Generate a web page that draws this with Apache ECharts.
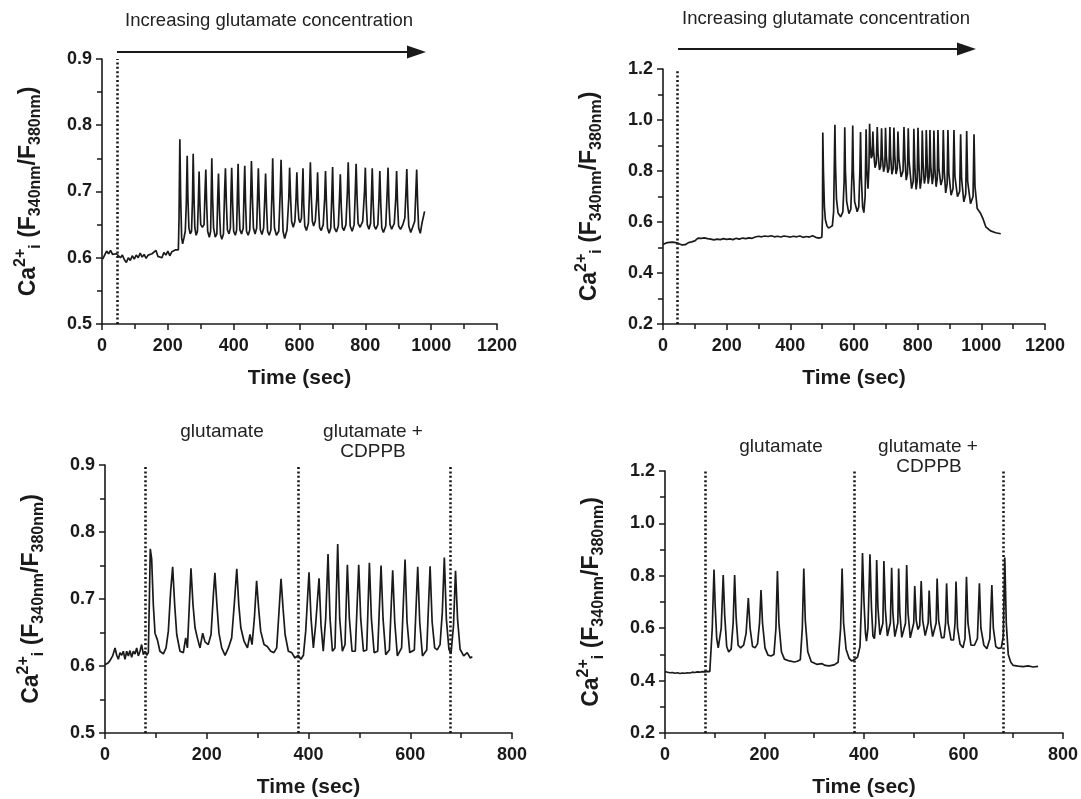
<!DOCTYPE html>
<html><head><meta charset="utf-8">
<script src="https://cdn.jsdelivr.net/npm/echarts@6/dist/echarts.min.js"></script>
<style>html,body{margin:0;padding:0;background:#fff}#c{width:1081px;height:799px}</style>
</head><body><div id="c"></div>
<script>
// ---- DATA ----
const dotsA = [45];
const dotsB = [45];
const dotsC = [80, 380, 678];
const dotsD = [81, 380, 680];

const traceA = [[2,0.598],[8,0.604],[14,0.610],[20,0.606],[26,0.611],[32,0.605],[38,0.608],[44,0.606],[50,0.603],[56,0.600],[62,0.604],[68,0.597],[74,0.593],[80,0.600],[86,0.596],[92,0.603],[98,0.598],[104,0.604],[110,0.600],[116,0.607],[122,0.601],[128,0.605],[134,0.599],[140,0.604],[146,0.601],[152,0.606],[158,0.603],[164,0.611],[170,0.602],[176,0.605],[182,0.600],[188,0.608],[194,0.604],[200,0.610],[206,0.603],[212,0.609],[218,0.606],[224,0.612],[228,0.610],[232,0.612],[234,0.660],[236.5,0.779],[239,0.690],[242,0.630],[245,0.621],[249,0.630],[253,0.640],[256,0.680],[258.8,0.754],[261,0.690],[264,0.645],[268,0.636],[272,0.640],[275,0.690],[277,0.757],[279.5,0.690],[282,0.645],[286,0.634],[290,0.640],[293,0.690],[295,0.730],[297.5,0.680],[300,0.650],[305,0.646],[310,0.650],[313,0.700],[315.4,0.733],[318,0.680],[321,0.640],[326,0.631],[330,0.640],[332,0.700],[333.6,0.750],[336,0.690],[339,0.645],[344,0.631],[349,0.636],[351.5,0.690],[353.9,0.727],[357,0.670],[360,0.635],[364,0.628],[369,0.636],[372.5,0.700],[375,0.735],[378,0.680],[381,0.642],[386,0.636],[390,0.645],[392,0.700],[394,0.736],[397,0.680],[400,0.640],[405,0.634],[409,0.642],[411.5,0.700],[413.5,0.742],[416,0.680],[419,0.642],[424,0.636],[429,0.645],[431.5,0.700],[433.7,0.739],[436,0.685],[439,0.640],[444,0.634],[449,0.642],[452,0.700],[454,0.746],[457,0.690],[460,0.645],[465,0.636],[470,0.645],[473,0.700],[475,0.735],[478,0.680],[481,0.642],[486,0.635],[491,0.645],[494.5,0.690],[497,0.727],[500,0.675],[503,0.640],[508,0.634],[513,0.642],[516.5,0.700],[518.6,0.750],[521,0.690],[524,0.645],[530,0.634],[537,0.640],[541.5,0.700],[544,0.748],[547,0.690],[550,0.640],[555,0.629],[562,0.642],[567.5,0.690],[570,0.736],[573,0.690],[576,0.655],[581,0.646],[586,0.655],[589.5,0.690],[592,0.729],[595,0.680],[598,0.658],[602,0.653],[606,0.660],[608.5,0.700],[610.6,0.735],[613,0.680],[616,0.648],[621,0.641],[627,0.652],[630.5,0.700],[633,0.744],[636,0.690],[639,0.655],[643,0.648],[648,0.656],[652.5,0.690],[655,0.729],[658,0.675],[661,0.646],[666,0.641],[672,0.650],[676.5,0.690],[679,0.731],[682,0.680],[685,0.645],[690,0.637],[695,0.645],[698.5,0.700],[700.6,0.737],[703,0.680],[706,0.645],[712,0.639],[718,0.648],[721.5,0.690],[724,0.726],[727,0.675],[730,0.646],[735,0.641],[741,0.650],[745.5,0.700],[748,0.744],[751,0.690],[754,0.648],[760,0.640],[766,0.650],[769.5,0.700],[772,0.742],[775,0.690],[778,0.652],[784,0.646],[792,0.655],[797.5,0.700],[800,0.736],[803,0.680],[806,0.650],[811,0.643],[816,0.652],[819,0.700],[821,0.735],[824,0.680],[827,0.648],[832,0.643],[838,0.650],[841.5,0.690],[844,0.731],[847,0.680],[850,0.645],[855,0.638],[862,0.648],[866.5,0.700],[869,0.736],[872,0.680],[875,0.650],[880,0.643],[888,0.652],[892.5,0.690],[895,0.731],[898,0.680],[901,0.648],[907,0.643],[914,0.650],[920,0.660],[923.5,0.700],[926,0.734],[929,0.680],[932,0.648],[938,0.638],[945,0.648],[950,0.655],[953.5,0.700],[956,0.733],[959,0.680],[962,0.645],[967,0.637],[972,0.652],[976,0.655],[980,0.670]];

const traceB = [[0,0.512],[5,0.515],[10,0.518],[15,0.514],[20,0.520],[25,0.517],[30,0.521],[35,0.516],[40,0.519],[45,0.521],[50,0.515],[55,0.513],[60,0.510],[65,0.514],[70,0.511],[75,0.516],[80,0.519],[85,0.517],[90,0.522],[95,0.520],[100,0.526],[105,0.530],[110,0.537],[115,0.540],[120,0.536],[125,0.539],[130,0.538],[135,0.534],[140,0.535],[145,0.531],[150,0.533],[155,0.536],[160,0.530],[165,0.534],[170,0.533],[175,0.529],[180,0.531],[185,0.534],[190,0.535],[195,0.531],[200,0.532],[205,0.536],[210,0.534],[215,0.530],[220,0.531],[225,0.535],[230,0.536],[235,0.532],[240,0.533],[245,0.537],[250,0.537],[255,0.533],[260,0.535],[265,0.539],[270,0.538],[275,0.534],[280,0.536],[285,0.540],[290,0.541],[295,0.545],[300,0.544],[305,0.540],[310,0.542],[315,0.546],[320,0.545],[325,0.541],[330,0.543],[335,0.547],[340,0.546],[345,0.541],[350,0.542],[355,0.546],[360,0.544],[365,0.540],[370,0.541],[375,0.546],[380,0.545],[385,0.541],[390,0.543],[395,0.546],[400,0.541],[405,0.545],[410,0.544],[415,0.540],[420,0.542],[425,0.547],[430,0.545],[435,0.541],[440,0.540],[445,0.545],[450,0.543],[455,0.539],[460,0.541],[465,0.545],[470,0.546],[475,0.540],[480,0.540],[485,0.544],[490,0.537],[495,0.536],[499,0.540],[501,0.620],[502,0.951],[504,0.800],[507,0.660],[510,0.610],[515,0.585],[520,0.576],[526,0.574],[532,0.585],[536,0.640],[538.5,0.850],[540,0.981],[542,0.820],[545,0.690],[550,0.635],[558,0.620],[565,0.640],[569,0.760],[571,0.972],[573,0.800],[577,0.680],[584,0.633],[590,0.650],[594,0.800],[596,0.978],[598,0.800],[602,0.680],[610,0.640],[615,0.660],[618.5,0.800],[620.5,0.953],[623,0.780],[627,0.660],[631,0.637],[635,0.700],[638,0.964],[640.5,0.800],[644,0.731],[647,0.820],[649,0.985],[651,0.900],[654,0.850],[657,0.860],[659.3,0.955],[661.5,0.880],[666,0.813],[670,0.830],[673,0.972],[675.5,0.870],[680,0.804],[684,0.820],[686.6,0.968],[689,0.860],[693,0.797],[697,0.820],[699,0.970],[701.5,0.860],[706,0.793],[710,0.810],[712.8,0.972],[715,0.860],[719,0.787],[723,0.810],[725.4,0.970],[728,0.860],[732,0.788],[736,0.810],[738,0.955],[741,0.850],[748,0.777],[754,0.800],[757,0.972],[760,0.850],[764,0.764],[768,0.790],[770.4,0.968],[773,0.840],[781,0.731],[786,0.760],[788,0.966],[791,0.820],[795,0.728],[798.5,0.760],[801,0.970],[804,0.820],[808,0.731],[812,0.770],[814.5,0.959],[817,0.830],[821,0.751],[825,0.780],[827,0.961],[830,0.830],[833,0.750],[836.5,0.780],[838.6,0.961],[841,0.820],[846,0.748],[849,0.780],[851,0.959],[854,0.810],[858,0.738],[861.5,0.770],[863.7,0.961],[866.5,0.810],[873,0.745],[878,0.770],[880.5,0.961],[883.5,0.800],[888,0.714],[892.5,0.750],[895,0.961],[898,0.790],[905,0.705],[911,0.730],[914,0.961],[917,0.780],[925,0.699],[932,0.720],[935,0.944],[938,0.770],[945,0.679],[951,0.710],[954,0.957],[957,0.760],[966,0.672],[974,0.700],[977,0.944],[980,0.740],[987,0.653],[998,0.633],[1006,0.610],[1014,0.581],[1029,0.565],[1045,0.558],[1061,0.554]];

const traceC = [[0,0.602],[3.3,0.600],[6.6,0.605],[9.8,0.608],[15,0.615],[19.7,0.627],[23,0.616],[26.2,0.610],[29.5,0.620],[32.8,0.616],[36,0.622],[39.3,0.610],[42.6,0.622],[45.9,0.615],[49,0.623],[52.4,0.613],[55.7,0.622],[59,0.618],[62.3,0.627],[65.5,0.615],[68.8,0.622],[72,0.632],[75.4,0.617],[78.6,0.622],[82,0.616],[85.2,0.620],[87,0.691],[89,0.775],[91.7,0.760],[95,0.691],[98.3,0.649],[103,0.639],[108,0.622],[114.7,0.618],[120,0.627],[124.5,0.652],[129,0.711],[133,0.748],[137,0.691],[141,0.647],[147.4,0.622],[154,0.620],[158.6,0.642],[162,0.627],[165.8,0.691],[169,0.746],[173,0.691],[177,0.657],[181.5,0.642],[186.8,0.627],[192,0.649],[196.6,0.636],[203,0.632],[208.4,0.647],[213,0.706],[216,0.739],[220,0.691],[224,0.649],[229.4,0.627],[236,0.616],[242.5,0.627],[249,0.642],[254,0.691],[259,0.745],[263,0.691],[267,0.657],[273.3,0.637],[280,0.627],[285,0.647],[289,0.632],[293.6,0.671],[298,0.727],[302,0.686],[306,0.652],[312.6,0.632],[319,0.629],[325.7,0.622],[332,0.620],[337.5,0.627],[342,0.681],[346,0.730],[350,0.686],[354,0.647],[360.4,0.622],[367,0.620],[373.5,0.612],[380,0.616],[385,0.610],[390,0.616],[394.5,0.652],[401,0.740],[405,0.671],[409.6,0.627],[414,0.661],[420.7,0.731],[424.6,0.661],[429,0.622],[433.8,0.671],[438.4,0.767],[442.3,0.671],[447,0.622],[452,0.627],[457.4,0.782],[461.3,0.671],[466.6,0.622],[471.8,0.632],[476.4,0.751],[480.3,0.671],[485.6,0.622],[492,0.622],[498.7,0.751],[502.6,0.671],[508,0.622],[514.4,0.624],[519.7,0.754],[523.6,0.671],[529,0.620],[536,0.622],[542.6,0.750],[546.5,0.671],[551.8,0.617],[559,0.624],[565.5,0.743],[569.5,0.666],[574.7,0.615],[583,0.627],[589.8,0.759],[593.7,0.666],[599,0.620],[608,0.624],[614.7,0.748],[618.6,0.666],[624,0.615],[632.4,0.624],[639,0.749],[643,0.666],[648,0.627],[653,0.624],[658.6,0.632],[663,0.680],[667,0.762],[671,0.670],[676,0.625],[680,0.618],[685,0.660],[689,0.742],[693,0.670],[698,0.625],[705,0.615],[712,0.620],[718,0.612],[722,0.614]];

const traceD = [[0,0.434],[5,0.432],[10,0.430],[15,0.431],[20,0.428],[25,0.430],[30,0.427],[35,0.429],[40,0.428],[45,0.430],[50,0.429],[55,0.432],[60,0.431],[65,0.433],[70,0.432],[75,0.434],[80,0.433],[85,0.435],[90,0.434],[93,0.440],[95,0.600],[98.5,0.824],[101,0.680],[104,0.560],[107,0.525],[110,0.530],[113,0.600],[117,0.803],[120,0.650],[124,0.530],[128,0.509],[133,0.520],[137,0.620],[140,0.803],[143,0.640],[147,0.535],[152,0.525],[158,0.535],[163,0.580],[167.5,0.715],[171,0.600],[176,0.530],[181,0.525],[186,0.540],[190,0.620],[193,0.746],[196,0.620],[201,0.525],[207,0.497],[213,0.494],[219,0.500],[223,0.600],[226,0.818],[229,0.620],[234,0.510],[240,0.482],[250,0.475],[260,0.471],[266,0.474],[272,0.480],[276,0.600],[279,0.828],[282,0.630],[287,0.510],[294,0.472],[305,0.462],[315,0.465],[322,0.458],[330,0.456],[340,0.460],[348,0.470],[353,0.600],[356,0.828],[359,0.620],[364,0.520],[370,0.485],[375,0.475],[381,0.480],[387,0.490],[392,0.530],[395,0.700],[397,0.887],[400,0.700],[403,0.580],[405,0.551],[408,0.600],[412,0.882],[415,0.680],[418,0.570],[421,0.560],[423.5,0.620],[425.5,0.860],[428,0.680],[432,0.575],[435,0.569],[438,0.620],[440,0.856],[443,0.670],[447,0.570],[450,0.565],[453,0.620],[455.6,0.831],[458,0.660],[462,0.568],[465,0.565],[468,0.620],[469.7,0.828],[472,0.660],[476,0.565],[480,0.563],[483.5,0.620],[485.8,0.841],[488.5,0.660],[493,0.563],[497,0.570],[500,0.620],[502,0.761],[505,0.630],[508.5,0.595],[512,0.610],[515,0.780],[518,0.630],[523,0.572],[527,0.575],[529,0.620],[531,0.744],[534,0.620],[538,0.568],[542,0.570],[545,0.620],[547,0.790],[550,0.630],[556,0.563],[561,0.565],[564,0.620],[566,0.771],[569,0.620],[575,0.555],[580,0.555],[583,0.620],[585,0.778],[588,0.600],[593,0.540],[599,0.525],[603,0.560],[606,0.796],[609,0.620],[615,0.535],[622,0.535],[628,0.560],[632,0.771],[635,0.600],[641,0.535],[647,0.522],[653,0.560],[657,0.765],[660,0.600],[665,0.530],[670,0.523],[676,0.525],[680,0.570],[683,0.870],[686,0.620],[690,0.500],[695,0.470],[700,0.458],[710,0.455],[720,0.453],[730,0.456],[740,0.452],[750,0.454]];

const annotTop = 'Increasing glutamate concentration';
const annotGlu = 'glutamate';
const annotGluC1 = 'glutamate +';
const annotGluC2 = 'CDPPB';
const xTitle = 'Time (sec)';

// ---- CHART ----
const FONT = '"Liberation Sans", Arial, Helvetica, sans-serif';
const INK = '#1a1a1a';
const chart = echarts.init(document.getElementById('c'), null, {renderer: 'canvas'});

const grids = [
  {left: 102, top: 59, width: 395, height: 265},
  {left: 663, top: 69, width: 382, height: 255},
  {left: 105, top: 465, width: 407, height: 271},
  {left: 665, top: 471, width: 398, height: 265}
];

const yName = '{b|Ca}{sup|2+}{sub|i}{b| (F}{sub|340nm}{b|/F}{sub|380nm}{b|)}';
const yRich = {
  b: {fontSize: 23, fontWeight: 'bold', fontFamily: FONT, color: INK, lineHeight: 31, verticalAlign: 'middle'},
  sup: {fontSize: 16, fontWeight: 'bold', fontFamily: FONT, color: INK, lineHeight: 17, verticalAlign: 'top'},
  sub: {fontSize: 16, fontWeight: 'bold', fontFamily: FONT, color: INK, lineHeight: 17, verticalAlign: 'bottom'}
};

function xAxis(gi, maxV) {
  return {
    gridIndex: gi, type: 'value', min: 0, max: maxV, interval: 200,
    name: xTitle, nameLocation: 'middle', nameGap: 44,
    nameTextStyle: {fontSize: 21, fontWeight: 'bold', fontFamily: FONT, color: INK},
    axisLine: {show: true, onZero: false, lineStyle: {color: INK, width: 1.6}},
    axisTick: {show: true, inside: false, length: 6, lineStyle: {color: INK, width: 1.5}},
    minorTick: {show: true, splitNumber: 2, length: 5, lineStyle: {color: INK, width: 1.5}},
    axisLabel: {fontSize: 18, fontWeight: 'bold', fontFamily: FONT, color: INK, margin: 13,
      formatter: v => String(v)},
    splitLine: {show: false}
  };
}
function yAxis(gi, minV, maxV, step) {
  return {
    gridIndex: gi, type: 'value', min: minV, max: maxV, interval: step,
    name: yName, nameLocation: 'middle', nameRotate: 90, nameGap: 58,
    nameTextStyle: {rich: yRich},
    axisLine: {show: true, onZero: false, lineStyle: {color: INK, width: 1.6}},
    axisTick: {show: true, inside: false, length: 6, lineStyle: {color: INK, width: 1.5}},
    minorTick: {show: true, splitNumber: 2, length: 5, lineStyle: {color: INK, width: 1.5}},
    axisLabel: {fontSize: 18, fontWeight: 'bold', fontFamily: FONT, color: INK, margin: 10,
      formatter: v => v.toFixed(1)},
    splitLine: {show: false}
  };
}
function series(idx, data, dots) {
  return {
    type: 'line', xAxisIndex: idx, yAxisIndex: idx, data: data,
    showSymbol: false, symbol: 'none', animation: false,
    lineStyle: {color: INK, width: 1.7},
    markLine: {
      silent: true, symbol: 'none', animation: false,
      label: {show: false},
      lineStyle: {color: INK, type: [2, 2.4], width: 2.6},
      data: dots.map(d => ({xAxis: d}))
    }
  };
}
function txt(s, x, y, size) {
  return {type: 'text', x: x, y: y, style: {text: s, fontSize: size, fontFamily: FONT, fill: '#222', align: 'center', verticalAlign: 'middle'}};
}
function arrow(x1, x2, y) {
  return [
    {type: 'line', shape: {x1: x1, y1: y, x2: x2 - 16, y2: y}, style: {stroke: INK, lineWidth: 1.8}},
    {type: 'polygon', shape: {points: [[x2 - 19, y - 6.5], [x2, y], [x2 - 19, y + 6.5]]}, style: {fill: INK}}
  ];
}

chart.setOption({
  animation: false,
  backgroundColor: '#fff',
  grid: grids,
  xAxis: [xAxis(0, 1200), xAxis(1, 1200), xAxis(2, 800), xAxis(3, 800)],
  yAxis: [yAxis(0, 0.5, 0.9, 0.1), yAxis(1, 0.2, 1.2, 0.2), yAxis(2, 0.5, 0.9, 0.1), yAxis(3, 0.2, 1.2, 0.2)],
  series: [series(0, traceA, dotsA), series(1, traceB, dotsB), series(2, traceC, dotsC), series(3, traceD, dotsD)],
  graphic: [
    txt(annotTop, 269, 21, 18.5),
    ...arrow(117, 426, 52),
    txt(annotTop, 826, 19, 18.5),
    ...arrow(678, 976, 49),
    txt(annotGlu, 222, 432, 19),
    txt(annotGluC1, 373, 432, 19),
    txt(annotGluC2, 373, 452, 19),
    txt(annotGlu, 781, 447, 19),
    txt(annotGluC1, 928, 447, 19),
    txt(annotGluC2, 929, 467, 19)
  ]
});
</script>
</body></html>
